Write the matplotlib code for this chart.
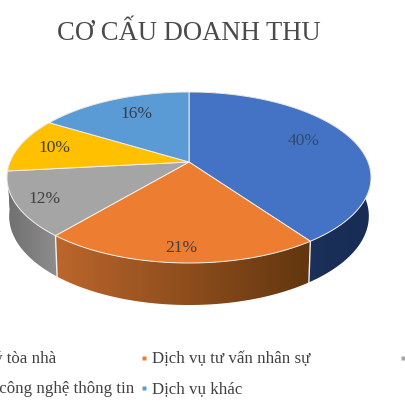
import numpy as np
import matplotlib
matplotlib.use('Agg')
import matplotlib.pyplot as plt
from matplotlib.colors import to_rgb
from matplotlib.patches import Polygon

TITLE = "CƠ CẤU DOANH THU"

# Slices run clockwise from 12 o'clock
CATEGORIES = ["Dịch vụ quản lý tòa nhà", "Dịch vụ tư vấn nhân sự", None,
              "Dịch vụ công nghệ thông tin", "Dịch vụ khác"]
VALUES = [40.2, 20.9, 12.2, 10.4, 16.3]
COLORS = ['#4472C4', '#ED7D31', '#A5A5A5', '#FFC000', '#5B9BD5']

# Side wall gradient, left colour then right colour
WALL_COLORS = [('#1F3864', '#182C54'), ('#BC662C', '#62360F'), ('#6F6F6F', '#8E8E8E'),
               ('#6F6F6F', '#6F6F6F'), ('#6F6F6F', '#6F6F6F')]
LABEL_COLORS = ['#33496F', '#404040', '#404040', '#404040', '#333F55']
LABEL_RADII = [0.73, 0.87, 0.85, 0.80, 0.74]
LABEL_TURN = [-5, 0, 0, 1, 3]   # degrees away from the middle of the slice

CX, CY = 189, 163      # pixel position of the pie centre
SCALE_X, SCALE_Y = 179, 82.7
PERSP = 0.1813


def project(theta, r=1.0):
    """Tilted disc to pixel position, theta in degrees clockwise from the top."""
    t = np.radians(theta)
    u, v = r * np.sin(t), r * np.cos(t)
    d = 1 + PERSP * v
    return CX + SCALE_X * u / d, CY - SCALE_Y * v / d, d


def wall_bottom(x, y, d):
    return CX + (x - CX) * 0.988, y + 38 / np.sqrt(d)


fig = plt.figure(figsize=(4.06, 4.06), dpi=100)
ax = fig.add_axes([0, 0, 1, 1])
ax.axis('off')

edges = np.concatenate([[0], np.cumsum(VALUES)]) / sum(VALUES) * 360

# side walls first, the top covers whatever is at the back
for i in range(len(VALUES)):
    th = np.linspace(edges[i], edges[i + 1], 200)
    x, y, d = project(th)
    xb, yb = wall_bottom(x, y, d)
    c0, c1 = [np.array(to_rgb(c)) for c in WALL_COLORS[i]]
    grad = np.linspace(c0, c1, 256)[np.newaxis, :, :]
    left, right = min(x.min(), xb.min()), max(x.max(), xb.max())
    top, bottom = min(y.min(), yb.min()), max(y.max(), yb.max())
    im = ax.imshow(grad, extent=(left, right, bottom, top), aspect='auto', zorder=1)
    im.set_clip_path(Polygon(np.c_[np.r_[x, xb[::-1]], np.r_[y, yb[::-1]]], transform=ax.transData))

ax.set_xlim(0, 406)
ax.set_ylim(406, 0)

# white seams on the wall between slices
for e in edges[1:3]:
    x, y, d = project(e)
    xb, yb = wall_bottom(x, y, d)
    ax.plot([x, xb], [y, yb], color='#F4F0EA', lw=1.0, zorder=2)

# top of the pie
for i in range(len(VALUES)):
    th = np.linspace(edges[i], edges[i + 1], 200)
    x, y, _ = project(th)
    ax.fill(np.r_[CX, x], np.r_[CY, y], facecolor=COLORS[i], edgecolor='#F2EEE8', lw=0.7, zorder=3)

    mid = (edges[i] + edges[i + 1]) / 2 + LABEL_TURN[i]
    lx, ly, _ = project(mid, LABEL_RADII[i])
    ax.text(lx, ly, f"{VALUES[i]:.0f}%", ha='center', va='center', fontsize=12.5,
            family='Liberation Serif', color=LABEL_COLORS[i], zorder=4)

ax.text(188.5, 33, TITLE, ha='center', va='center', fontsize=19.2,
        family='Liberation Serif', color='#4A4A4A')

# legend runs off both sides of the crop, as in the source picture
legend_pos = [(-100, 359), (144, 359), (403, 359), (-100, 389), (144, 389)]
for i, (lx, ly) in enumerate(legend_pos):
    ax.plot(lx, ly, marker='s', ms=3.5, color=COLORS[i], mec='none', clip_on=True)
    if CATEGORIES[i] is None:
        continue
    if lx < 0:
        text_right = 56 if ly < 370 else 134
        ax.text(text_right, ly, CATEGORIES[i], ha='right', va='center', fontsize=12.2,
                family='Liberation Serif', color='#404040')
    else:
        ax.text(lx + 8, ly, CATEGORIES[i], ha='left', va='center', fontsize=12.2,
                family='Liberation Serif', color='#404040')

fig.savefig('out.png', dpi=100, facecolor='white')
